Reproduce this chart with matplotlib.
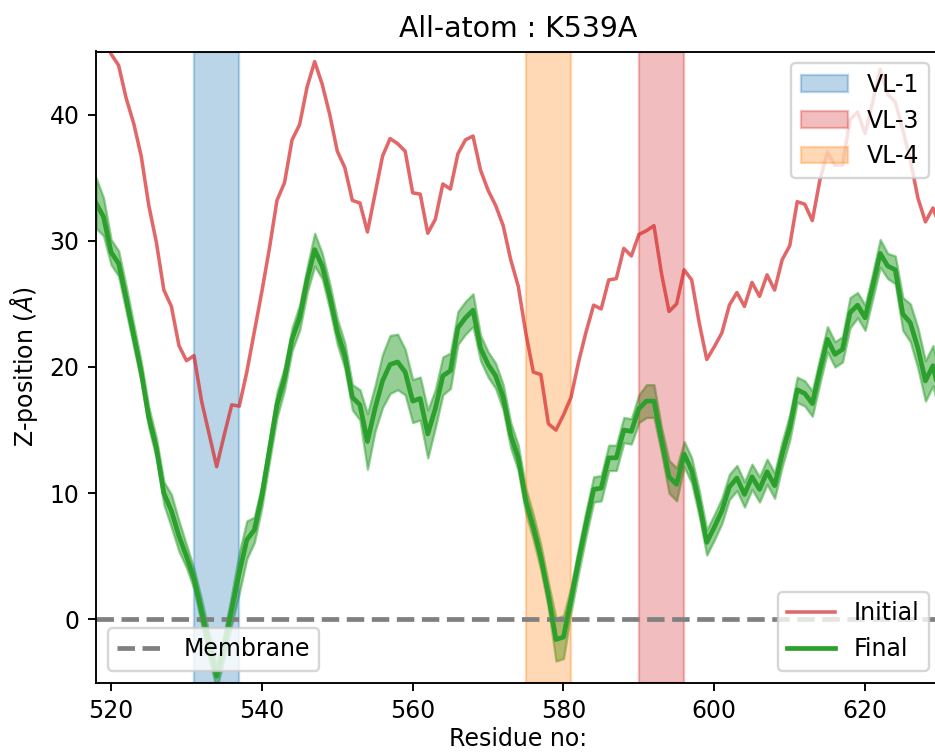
import numpy as np
import matplotlib
matplotlib.use("Agg")
import matplotlib.pyplot as plt

# Residue numbers along the chain
residues = np.arange(518, 631)

# Z-position of each residue at the start of the run (Angstrom)
initial_z = [
    49.0, 47.0, 44.8, 43.9, 41.3, 39.3, 36.7, 32.8, 29.9, 26.1, 24.8, 21.7, 20.5,
    20.9, 17.3, 14.7, 12.1, 14.6, 17.0, 16.9, 19.6, 22.8, 26.0,
    29.4, 33.2, 34.6, 38.0, 39.2, 42.2, 44.2, 42.4, 40.0, 37.1,
    35.8, 33.2, 33.0, 30.7, 33.7, 36.7, 38.1, 37.7, 37.1, 33.8,
    33.7, 30.6, 31.7, 34.5, 34.1, 36.9, 38.0, 38.3, 35.6, 34.0,
    32.8, 31.2, 28.5, 26.4, 22.7, 19.6, 19.4, 15.5, 15.0, 16.2,
    17.6, 20.4, 22.8, 24.9, 24.6, 26.9, 27.0, 29.4, 28.8, 30.5,
    30.8, 31.2, 27.4, 24.4, 25.0, 27.7, 26.9, 23.5, 20.6, 21.6,
    22.7, 24.9, 25.9, 24.8, 26.7, 25.6, 27.3, 26.1, 28.5, 29.6,
    33.1, 32.9, 31.6, 34.8, 37.0, 36.0, 36.0, 39.6, 40.2, 38.5,
    41.0, 43.6, 41.6, 41.0, 38.8, 36.4, 33.4, 31.5, 32.6, 31.0,
]

# Mean Z-position at the end of the run (Angstrom)
final_z = [
    33.0, 31.9, 29.1, 28.2, 25.4, 22.5, 19.6, 16.0, 13.6, 10.0, 8.6, 6.6, 5.0,
    3.2, 0.6, -2.1, -4.5, -2.1, 0.8, 3.7, 6.3, 7.1, 9.8,
    13.4, 17.0, 19.1, 22.2, 23.9, 26.9, 29.3, 28.0, 25.6, 22.8,
    20.9, 17.6, 17.0, 14.1, 16.7, 18.9, 20.2, 20.4, 19.6, 17.3,
    17.5, 14.7, 16.7, 19.3, 19.7, 23.1, 23.9, 24.5, 21.5, 20.2,
    19.3, 17.6, 14.6, 12.8, 9.4, 7.3, 4.9, 1.9, -1.6, -1.4,
    1.6, 4.7, 7.6, 10.3, 10.4, 12.8, 12.8, 15.0, 14.9, 16.7,
    17.3, 17.3, 14.2, 11.3, 10.7, 13.1, 11.8, 9.2, 6.1, 7.3,
    8.6, 10.5, 11.2, 9.9, 11.3, 10.3, 11.7, 10.6, 13.1, 15.2,
    18.2, 17.9, 17.1, 19.7, 22.2, 21.0, 21.4, 24.3, 24.9, 23.9,
    26.4, 29.0, 28.0, 27.7, 24.2, 23.5, 21.5, 18.9, 20.1, 17.5,
]

# Spread of the final Z-position (Angstrom)
final_sd = [
    2.0, 1.5, 1.0, 1.0, 1.0, 0.9, 0.8, 0.8, 0.8, 0.9, 1.3, 1.2, 0.9,
    0.8, 1.0, 1.0, 1.0, 1.0, 1.2, 1.6, 1.5, 1.0, 0.9,
    0.9, 1.0, 0.9, 0.9, 1.0, 1.0, 1.3, 1.0, 1.0, 1.0,
    1.0, 1.0, 1.2, 2.2, 1.8, 2.1, 2.3, 2.2, 1.8, 1.7,
    1.7, 1.9, 1.5, 1.5, 1.4, 1.3, 1.3, 1.3, 1.0, 1.0,
    1.0, 1.0, 1.0, 1.0, 1.0, 1.0, 1.0, 1.0, 1.7, 1.7,
    1.0, 1.0, 1.0, 1.0, 1.0, 1.0, 1.0, 1.0, 1.0, 1.1,
    1.3, 1.3, 1.0, 1.3, 1.3, 1.0, 1.0, 1.0, 1.0, 1.0,
    1.0, 1.0, 1.0, 1.0, 1.0, 1.0, 1.0, 1.0, 1.0, 1.0,
    1.0, 1.0, 1.0, 1.0, 1.0, 1.0, 1.0, 1.2, 1.0, 1.0,
    1.0, 1.1, 1.0, 1.1, 1.3, 1.5, 1.6, 1.6, 1.6, 1.6,
]

# Variable-loop regions (start, end residue)
loop_names = ["VL-1", "VL-3", "VL-4"]
loop_starts = [531, 590, 575]
loop_ends = [537, 596, 581]
loop_colors = ["tab:blue", "tab:red", "tab:orange"]

initial_z = np.array(initial_z)
final_z = np.array(final_z)
final_sd = np.array(final_sd)

DPI = 170
fig = plt.figure(figsize=(935 / DPI, 754 / DPI), dpi=DPI)
ax = fig.add_axes([96 / 935, 71.5 / 754, 844.5 / 935, 631 / 754])

membrane = ax.axhline(0, color="gray", linestyle="--", linewidth=2, label="Membrane")

line_init, = ax.plot(residues, initial_z, color="tab:red", alpha=0.7,
                     linewidth=1.5, label="Initial")
ax.fill_between(residues, final_z - final_sd, final_z + final_sd,
                color="tab:green", alpha=0.5)
line_final, = ax.plot(residues, final_z, color="tab:green", linewidth=2,
                      label="Final")

spans = []
for name, s, e, c in zip(loop_names, loop_starts, loop_ends, loop_colors):
    spans.append(ax.axvspan(s, e, color=c, alpha=0.3, label=name))

ax.set_xlim(518, 630)
ax.set_ylim(-5, 45)
ax.set_xticks([520, 540, 560, 580, 600, 620])
ax.set_yticks([0, 10, 20, 30, 40])

ax.set_title("All-atom : K539A")
ax.set_xlabel("Residue no:", labelpad=1.5)
ax.set_ylabel(r"Z-position ($\AA$)")

leg_spans = ax.legend(handles=spans, loc="upper right")
ax.add_artist(leg_spans)
leg_lines = ax.legend(handles=[line_init, line_final], loc="lower right")
ax.add_artist(leg_lines)
ax.legend(handles=[membrane], loc="lower left")

fig.savefig("out.png", dpi=DPI)
